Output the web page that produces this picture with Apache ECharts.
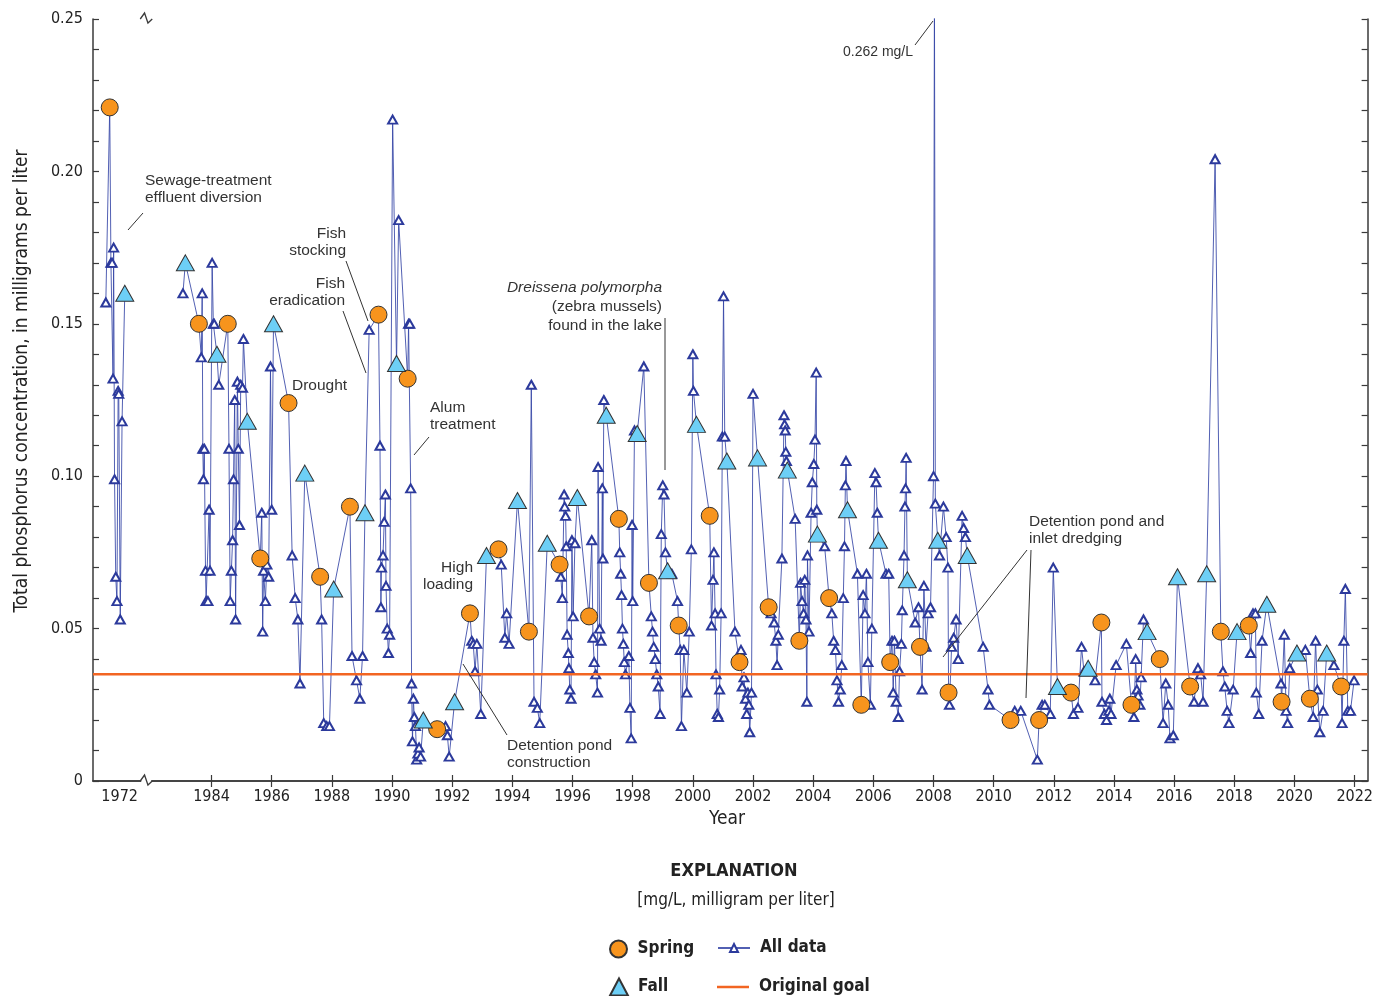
<!DOCTYPE html>
<html><head><meta charset="utf-8">
<script src="https://cdn.jsdelivr.net/npm/echarts@6/dist/echarts.min.js"></script>
<style>html,body{margin:0;padding:0;background:#fff}#c{width:1376px;height:996px}</style>
</head><body><div id="c"></div>
<script>
// ---------------- DATA ----------------
const allData = [
[1971.54,0.157],[1971.67,0.221],[1971.71,0.170],[1971.75,0.170],[1971.78,0.132],[1971.80,0.175],[1971.83,0.099],[1971.87,0.067],[1971.91,0.059],[1971.95,0.128],[1971.97,0.127],[1972.02,0.053],[1972.08,0.118],[1972.17,0.160],
[1983.05,0.160],[1983.13,0.170],[1983.58,0.150],[1983.66,0.139],[1983.69,0.160],[1983.71,0.109],[1983.73,0.099],[1983.76,0.109],[1983.80,0.069],[1983.82,0.059],[1983.88,0.059],[1983.92,0.089],[1983.95,0.069],[1984.02,0.170],[1984.06,0.150],[1984.09,0.150],[1984.18,0.140],[1984.24,0.130],[1984.54,0.150],[1984.58,0.109],[1984.62,0.059],[1984.66,0.069],[1984.70,0.079],[1984.73,0.099],[1984.77,0.125],[1984.80,0.053],[1984.86,0.131],[1984.89,0.109],[1984.93,0.084],[1984.97,0.130],[1985.03,0.129],[1985.06,0.145],[1985.19,0.118],
[1985.62,0.073],[1985.67,0.088],[1985.70,0.049],[1985.73,0.069],[1985.79,0.059],[1985.84,0.071],[1985.90,0.067],[1985.96,0.136],[1986.00,0.089],[1986.06,0.150],[1986.56,0.124],[1986.68,0.074],[1986.78,0.060],[1986.87,0.053],[1986.94,0.032],[1987.10,0.101],[1987.61,0.067],[1987.66,0.053],[1987.73,0.019],[1987.83,0.018],[1987.92,0.018],[1988.06,0.063],[1988.60,0.090],[1988.67,0.041],[1988.82,0.033],[1988.93,0.027],[1989.02,0.041],[1989.10,0.088],[1989.24,0.148],[1989.55,0.153],[1989.60,0.110],[1989.63,0.057],[1989.65,0.070],[1989.70,0.074],[1989.74,0.085],[1989.78,0.094],[1989.80,0.064],[1989.84,0.050],[1989.88,0.042],[1989.92,0.048],[1990.02,0.217],[1990.15,0.137],[1990.22,0.184],[1990.52,0.132],[1990.55,0.150],[1990.59,0.150],[1990.62,0.096],[1990.65,0.032],[1990.68,0.013],[1990.71,0.027],[1990.74,0.021],[1990.78,0.018],[1990.82,0.007],[1990.86,0.009],[1990.90,0.011],[1990.95,0.008],[1991.04,0.020],[1991.50,0.017],[1991.78,0.018],[1991.84,0.015],[1991.90,0.008],[1992.08,0.026],
[1992.59,0.055],[1992.65,0.046],[1992.70,0.045],[1992.76,0.036],[1992.82,0.045],[1992.95,0.022],[1993.14,0.074],[1993.54,0.076],[1993.63,0.071],[1993.75,0.047],[1993.81,0.055],[1993.89,0.045],[1994.17,0.092],[1994.55,0.049],[1994.63,0.130],[1994.72,0.026],[1994.83,0.024],[1994.91,0.019],[1995.16,0.078],[1995.57,0.071],[1995.61,0.067],[1995.66,0.060],[1995.72,0.094],[1995.74,0.090],[1995.77,0.087],[1995.79,0.077],[1995.82,0.048],[1995.86,0.042],[1995.88,0.037],[1995.91,0.030],[1995.95,0.027],[1995.98,0.079],[1996.02,0.054],[1996.08,0.078],[1996.16,0.093],[1996.55,0.054],[1996.64,0.079],[1996.68,0.047],[1996.72,0.039],[1996.77,0.035],[1996.83,0.029],[1996.85,0.103],[1996.90,0.050],[1996.95,0.046],[1996.99,0.096],[1997.01,0.073],[1997.04,0.125],[1997.12,0.120],
[1997.54,0.086],[1997.57,0.075],[1997.60,0.068],[1997.63,0.061],[1997.66,0.050],[1997.69,0.045],[1997.72,0.039],[1997.76,0.035],[1997.87,0.041],[1997.91,0.024],[1997.95,0.014],[1997.98,0.084],[1998.00,0.059],[1998.06,0.115],[1998.15,0.114],[1998.37,0.136],[1998.54,0.065],[1998.62,0.054],[1998.66,0.049],[1998.70,0.044],[1998.75,0.040],[1998.80,0.035],[1998.85,0.031],[1998.91,0.022],[1998.95,0.081],[1999.00,0.097],[1999.04,0.094],[1999.09,0.075],[1999.16,0.069],[1999.30,0.068],[1999.49,0.059],[1999.53,0.051],[1999.58,0.043],[1999.62,0.018],[1999.70,0.043],[1999.80,0.029],[1999.88,0.049],[1999.95,0.076],[2000.00,0.140],[2000.02,0.128],[2000.12,0.117],
[2000.56,0.087],[2000.62,0.051],[2000.67,0.066],[2000.70,0.075],[2000.74,0.055],[2000.77,0.035],[2000.81,0.022],[2000.85,0.021],[2000.89,0.030],[2000.94,0.055],[2000.98,0.113],[2001.02,0.159],[2001.06,0.113],[2001.13,0.105],[2001.40,0.049],[2001.55,0.039],[2001.60,0.043],[2001.64,0.031],[2001.70,0.034],[2001.75,0.027],[2001.79,0.022],[2001.83,0.029],[2001.86,0.025],[2001.89,0.016],[2001.95,0.029],[2002.00,0.127],[2002.15,0.106],
[2002.52,0.057],[2002.60,0.055],[2002.70,0.052],[2002.76,0.046],[2002.80,0.038],[2002.84,0.048],[2002.96,0.073],[2003.03,0.120],[2003.05,0.117],[2003.07,0.115],[2003.09,0.108],[2003.11,0.105],[2003.14,0.102],[2003.40,0.086],[2003.54,0.046],[2003.58,0.065],[2003.63,0.059],[2003.68,0.055],[2003.72,0.066],[2003.76,0.053],[2003.79,0.026],[2003.81,0.074],[2003.86,0.049],[2003.93,0.088],[2003.97,0.098],[2004.02,0.104],[2004.06,0.112],[2004.10,0.134],[2004.12,0.089],[2004.14,0.081],[2004.38,0.077],
[2004.53,0.060],[2004.62,0.055],[2004.68,0.046],[2004.74,0.043],[2004.79,0.033],[2004.84,0.026],[2004.90,0.030],[2004.95,0.038],[2005.00,0.060],[2005.04,0.077],[2005.07,0.097],[2005.09,0.105],[2005.14,0.089],[2005.47,0.068],[2005.60,0.025],[2005.66,0.061],[2005.72,0.055],[2005.77,0.068],[2005.82,0.039],[2005.90,0.025],[2005.95,0.050],[2006.05,0.101],[2006.09,0.098],[2006.13,0.088],[2006.17,0.079],[2006.42,0.068],[2006.51,0.068],
[2006.56,0.039],[2006.62,0.046],[2006.66,0.029],[2006.70,0.046],[2006.76,0.026],[2006.83,0.021],[2006.87,0.036],[2006.93,0.045],[2006.96,0.056],[2007.02,0.074],[2007.05,0.090],[2007.07,0.096],[2007.09,0.106],[2007.13,0.066],[2007.39,0.052],[2007.50,0.057],[2007.55,0.044],[2007.62,0.030],[2007.68,0.064],[2007.75,0.044],[2007.82,0.055],[2007.90,0.057],[2008.00,0.100],[2008.03,0.262],[2008.06,0.091],[2008.14,0.079],[2008.20,0.074],[2008.33,0.090],[2008.42,0.080],[2008.48,0.070],
[2008.50,0.029],[2008.53,0.025],[2008.60,0.044],[2008.67,0.047],[2008.75,0.053],[2008.82,0.040],[2008.95,0.087],[2009.00,0.083],[2009.06,0.080],[2009.12,0.074],[2009.65,0.044],[2009.81,0.030],[2009.86,0.025],[2010.56,0.020],[2010.70,0.023],[2010.90,0.023],[2011.45,0.007],[2011.51,0.020],[2011.61,0.025],[2011.70,0.025],[2011.88,0.022],[2011.98,0.070],[2012.12,0.031],
[2012.57,0.029],[2012.65,0.022],[2012.80,0.024],[2012.92,0.044],[2013.00,0.036],[2013.14,0.037],[2013.37,0.033],[2013.58,0.052],[2013.60,0.026],[2013.68,0.022],[2013.75,0.020],[2013.83,0.023],[2013.86,0.027],[2013.90,0.022],[2014.07,0.038],[2014.41,0.045],[2014.58,0.025],[2014.66,0.021],[2014.72,0.040],[2014.76,0.030],[2014.80,0.028],[2014.86,0.025],[2014.90,0.034],[2014.98,0.053],[2015.10,0.049],
[2015.52,0.040],[2015.63,0.019],[2015.72,0.032],[2015.80,0.025],[2015.86,0.014],[2015.97,0.015],[2016.11,0.067],[2016.53,0.031],[2016.66,0.026],[2016.79,0.037],[2016.88,0.035],[2016.96,0.026],[2017.08,0.068],[2017.36,0.204],[2017.55,0.049],[2017.62,0.036],[2017.68,0.031],[2017.76,0.023],[2017.82,0.019],[2017.96,0.030],[2018.09,0.049],
[2018.48,0.051],[2018.54,0.042],[2018.62,0.055],[2018.70,0.055],[2018.73,0.029],[2018.81,0.022],[2018.92,0.046],[2019.08,0.058],[2019.55,0.032],[2019.57,0.026],[2019.66,0.048],[2019.72,0.023],[2019.77,0.019],[2019.84,0.037],[2020.08,0.042],[2020.36,0.043],[2020.51,0.027],[2020.62,0.021],[2020.70,0.046],[2020.76,0.030],[2020.84,0.016],[2020.95,0.023],[2021.07,0.042],[2021.31,0.038],[2021.55,0.031],[2021.58,0.019],[2021.64,0.046],[2021.69,0.063],[2021.77,0.023],[2021.86,0.023],[2021.98,0.033]
];
const springData = [
[1971.67,0.221],[1983.58,0.150],[1984.54,0.150],[1985.62,0.073],[1986.56,0.124],[1987.61,0.067],[1988.60,0.090],[1989.55,0.153],[1990.52,0.132],[1991.50,0.017],[1992.59,0.055],[1993.54,0.076],[1994.55,0.049],[1995.57,0.071],[1996.55,0.054],[1997.54,0.086],[1998.54,0.065],[1999.53,0.051],[2000.56,0.087],[2001.55,0.039],[2002.52,0.057],[2003.54,0.046],[2004.53,0.060],[2005.60,0.025],[2006.56,0.039],[2007.55,0.044],[2008.50,0.029],[2010.56,0.020],[2011.51,0.020],[2012.57,0.029],[2013.58,0.052],[2014.58,0.025],[2015.52,0.040],[2016.53,0.031],[2017.55,0.049],[2018.48,0.051],[2019.57,0.026],[2020.51,0.027],[2021.55,0.031]
];
const fallData = [
[1972.17,0.160],[1983.13,0.170],[1984.18,0.140],[1985.19,0.118],[1986.06,0.150],[1987.10,0.101],[1988.06,0.063],[1989.10,0.088],[1990.15,0.137],[1991.04,0.020],[1992.08,0.026],[1993.14,0.074],[1994.17,0.092],[1995.16,0.078],[1996.16,0.093],[1997.12,0.120],[1998.15,0.114],[1999.16,0.069],[2000.12,0.117],[2001.13,0.105],[2002.15,0.106],[2003.14,0.102],[2004.14,0.081],[2005.14,0.089],[2006.17,0.079],[2007.13,0.066],[2008.14,0.079],[2009.12,0.074],[2012.12,0.031],[2013.14,0.037],[2015.10,0.049],[2016.11,0.067],[2017.08,0.068],[2018.09,0.049],[2019.08,0.058],[2020.08,0.042],[2021.07,0.042]
];
const goalValue = 0.035;
const xTickYears = [1984,1986,1988,1990,1992,1994,1996,1998,2000,2002,2004,2006,2008,2010,2012,2014,2016,2018,2020,2022];
const xLabelYears = [1972,1984,1986,1988,1990,1992,1994,1996,1998,2000,2002,2004,2006,2008,2010,2012,2014,2016,2018,2020,2022];
const yLabelValues = [0,0.05,0.10,0.15,0.20,0.25];
const yTickLabels = ['0','0.05','0.10','0.15','0.20','0.25'];

// ---------------- AXIS BREAK MAPPING ----------------
const SHIFT = 8.946;           // the 1972 samples are drawn just right of the axis origin
const XMIN = 1980.06, XMAX = 2022.43, BREAK = 1981.83;
const toAxis = y => (y < 1980 ? y + SHIFT : y);
const fromAxis = v => (v < BREAK ? v - SHIFT : v);

// line data with a gap across the axis break
const allSeries = [];
allData.forEach((p, i) => {
  if (i > 0 && p[0] - allData[i - 1][0] > 5) allSeries.push([BREAK, '-']);
  allSeries.push([toAxis(p[0]), p[1]]);
});

const FONT_N = '"DejaVu Sans Condensed","Liberation Sans Narrow",sans-serif';
const FONT = '"Liberation Sans","DejaVu Sans",sans-serif';
const AX = '#3a3a3a';

const chart = echarts.init(document.getElementById('c'), null, {renderer: 'canvas'});

const xCommon = {
  type: 'value', min: XMIN, max: XMAX,
  axisLine: {lineStyle: {color: AX, width: 1.5}},
  axisTick: {inside: true, length: 6, customValues: xTickYears, lineStyle: {color: AX, width: 1.2}},
  splitLine: {show: false}
};
const yCommon = {
  type: 'value', min: 0, max: 0.25, interval: 0.01,
  axisLine: {show: true, lineStyle: {color: AX, width: 1.5}},
  axisTick: {show: true, inside: true, length: 6, lineStyle: {color: AX, width: 1.2}},
  splitLine: {show: false}
};

const legendText = {fontFamily: FONT_N, fontWeight: 'bold', fontSize: 17, color: '#222', lineHeight: 20, padding: [0, 0, 0, 5]};
function oneLegend(name, left, top, w, h, icon) {
  const item = icon ? {name: name, icon: icon} : name;
  return {data: [item], left: left, top: top, orient: 'vertical', itemWidth: w, itemHeight: h,
    itemGap: 0, padding: 0, selectedMode: false, textStyle: legendText};
}

chart.setOption({
  animation: false,
  backgroundColor: '#fff',
  grid: {left: 93, right: 6, top: 19, bottom: 215},
  xAxis: [
    Object.assign({}, xCommon, {position: 'bottom',
      axisLabel: {customValues: xLabelYears.map(toAxis), formatter: v => String(Math.round(fromAxis(v))),
        fontFamily: FONT_N, fontSize: 16, color: '#222', margin: 8}}),
    Object.assign({}, xCommon, {position: 'top', axisLabel: {show: false}})
  ],
  yAxis: [
    Object.assign({}, yCommon, {position: 'left',
      axisLabel: {customValues: yLabelValues,
        formatter: v => yTickLabels[yLabelValues.findIndex(t => Math.abs(t - v) < 1e-9)],
        fontFamily: FONT_N, fontSize: 16, color: '#222', margin: 10}}),
    Object.assign({}, yCommon, {position: 'right', axisLabel: {show: false}})
  ],
  legend: [
    oneLegend('Spring', 609, 939, 18, 17),
    oneLegend('Fall', 609, 977, 18, 17),
    oneLegend('All data', 717, 938, 32, 10),
    oneLegend('Original goal', 717, 977, 32, 2.5, 'rect')
  ],
  series: [
    {
      name: 'All data', type: 'line', data: allSeries, connectNulls: false,
      symbol: 'emptyTriangle', symbolSize: [9, 8], showAllSymbol: true, clip: true,
      lineStyle: {color: '#3444a6', width: 1, opacity: 0.85},
      itemStyle: {color: '#2c3a9c', borderWidth: 1},
      emphasis: {disabled: true}, z: 2
    },
    {
      name: 'Original goal', type: 'line', data: [[XMIN, goalValue], [XMAX, goalValue]],
      symbol: 'none', lineStyle: {color: '#f26522', width: 2.5},
      itemStyle: {color: '#f26522'}, emphasis: {disabled: true}, z: 3
    },
    {
      name: 'Spring', type: 'scatter', data: springData.map(p => [toAxis(p[0]), p[1]]),
      symbol: 'circle', symbolSize: 17,
      itemStyle: {color: '#f7941d', borderColor: '#333', borderWidth: 1, opacity: 1},
      emphasis: {disabled: true}, z: 4
    },
    {
      name: 'Fall', type: 'scatter', data: fallData.map(p => [toAxis(p[0]), p[1]]),
      symbol: 'triangle', symbolSize: [18, 16],
      itemStyle: {color: '#6dcff6', borderColor: '#333', borderWidth: 1, opacity: 1},
      emphasis: {disabled: true}, z: 4
    }
  ]
});

// ---------------- ANNOTATIONS ----------------
function txt(x, y, text, align, opt) {
  opt = opt || {};
  const el = {type: 'text', x: x, y: y, z: 10, silent: true,
    style: {text: text, fill: opt.fill || '#333', font: opt.font || ('15.5px ' + FONT),
      align: align, textAlign: align, verticalAlign: opt.va || 'top', textVerticalAlign: opt.va || 'top',
      lineHeight: opt.lh || 17}};
  if (opt.rotation) el.rotation = opt.rotation;
  return el;
}
function seg(x1, y1, x2, y2) {
  return {type: 'line', z: 10, silent: true, shape: {x1: x1, y1: y1, x2: x2, y2: y2},
    style: {stroke: '#333', lineWidth: 1}};
}
const bx = chart.convertToPixel({xAxisIndex: 0}, BREAK);
const yb = chart.convertToPixel({yAxisIndex: 0}, 0);
const yt = chart.convertToPixel({yAxisIndex: 0}, 0.25);
function brk(y) {
  return [
    {type: 'rect', z: 20, silent: true, shape: {x: bx - 5, y: y - 2, width: 10, height: 4}, style: {fill: '#fff'}},
    {type: 'polyline', z: 21, silent: true,
      shape: {points: [[bx - 6, y], [bx - 1.7, y - 6], [bx + 1.7, y + 4], [bx + 6, y]]},
      style: {stroke: AX, lineWidth: 1.3, fill: null}}
  ];
}

chart.setOption({
  graphic: [
    ...brk(yb), ...brk(yt),
    txt(22, 381, 'Total phosphorus concentration, in milligrams per liter', 'center',
      {font: '19px ' + FONT_N, va: 'middle', fill: '#222', rotation: Math.PI / 2}),
    txt(727, 819, 'Year', 'center', {font: '19px ' + FONT_N, va: 'middle', fill: '#222'}),
    txt(734, 871, 'EXPLANATION', 'center', {font: 'bold 18px ' + FONT_N, va: 'middle', fill: '#222'}),
    txt(736, 901, '[mg/L, milligram per liter]', 'center', {font: '17px ' + FONT_N, va: 'middle', fill: '#222'}),
    txt(145, 172.5, 'Sewage-treatment\neffluent diversion', 'left'),
    seg(128, 230, 143, 213),
    txt(346, 225.5, 'Fish\nstocking', 'right'),
    seg(346, 261, 368, 321),
    txt(345, 275.5, 'Fish\neradication', 'right'),
    seg(343, 311, 366, 373),
    txt(292, 377.5, 'Drought', 'left'),
    txt(430, 399.5, 'Alum\ntreatment', 'left'),
    seg(429, 437, 414, 455),
    txt(473, 559.5, 'High\nloading', 'right'),
    txt(507, 737.5, 'Detention pond\nconstruction', 'left'),
    seg(463, 664, 507, 735),
    txt(662, 279, 'Dreissena polymorpha', 'right', {font: 'italic 15.5px ' + FONT}),
    txt(662, 297.5, '(zebra mussels)\nfound in the lake', 'right', {lh: 19}),
    seg(665, 318, 665, 470),
    txt(913, 43.5, '0.262 mg/L', 'right', {font: '14px ' + FONT}),
    seg(915, 45, 933, 21),
    txt(1029, 513.5, 'Detention pond and\ninlet dredging', 'left'),
    seg(1027, 550, 943, 657),
    seg(1031, 550, 1026, 698)
  ]
});
</script>
</body></html>
